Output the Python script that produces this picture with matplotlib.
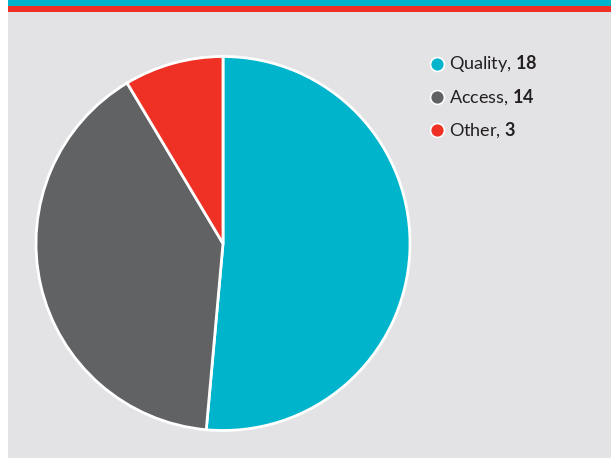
import matplotlib.pyplot as plt
from matplotlib.patches import Rectangle
from matplotlib.lines import Line2D

plt.rcParams['font.family'] = ['Lato', 'DejaVu Sans']
plt.rcParams['mathtext.fontset'] = 'custom'
plt.rcParams['mathtext.rm'] = 'Lato'
plt.rcParams['mathtext.bf'] = 'Lato:bold'

# data
labels = ['Quality', 'Access', 'Other']
values = [18, 14, 3]
colors = ['#00B5CB', '#616264', '#EF3125']

W, H = 611, 458
fig = plt.figure(figsize=(W / 100, H / 100), dpi=100)
fig.patch.set_facecolor('white')

# background panel and header bands
fig.add_artist(Rectangle((8 / W, 0), 1 - 8 / W, 1 - 12 / H, transform=fig.transFigure,
                         facecolor='#E3E3E5', edgecolor='none', zorder=0))
fig.add_artist(Rectangle((8 / W, 1 - 6 / H), 1, 6 / H, transform=fig.transFigure,
                         facecolor='#00B5CB', edgecolor='none', zorder=0))
fig.add_artist(Rectangle((8 / W, 1 - 11.5 / H), 1, 5.5 / H, transform=fig.transFigure,
                         facecolor='#EF3125', edgecolor='none', zorder=0))

# pie
cx, cy, r = 223, 243.5, 187
ax = fig.add_axes([(cx - r) / W, (H - cy - r) / H, 2 * r / W, 2 * r / H])
ax.set_facecolor('none')
wedges, _ = ax.pie(values, colors=colors, startangle=90, counterclock=False, radius=1,
                   wedgeprops=dict(edgecolor='white', linewidth=2))
for w in wedges:
    w.set_clip_on(False)
ax.set_xlim(-1.0, 1.0)
ax.set_ylim(-1.0, 1.0)
ax.set_aspect('equal')
ax.axis('off')

# legend
for i, (lab, val, col) in enumerate(zip(labels, values, colors)):
    y = 64 + 33 * i
    fig.add_artist(Line2D([437 / W], [1 - y / H], transform=fig.transFigure,
                          marker='o', markersize=10, markerfacecolor=col,
                          markeredgecolor='white', markeredgewidth=1.2, linestyle='none'))
    fig.text(449 / W, 1 - y / H, lab + ', $\\mathbf{' + str(val) + '}$',
             fontsize=13, color='#231F20', va='center', ha='left')

fig.savefig('out.png', dpi=100)
